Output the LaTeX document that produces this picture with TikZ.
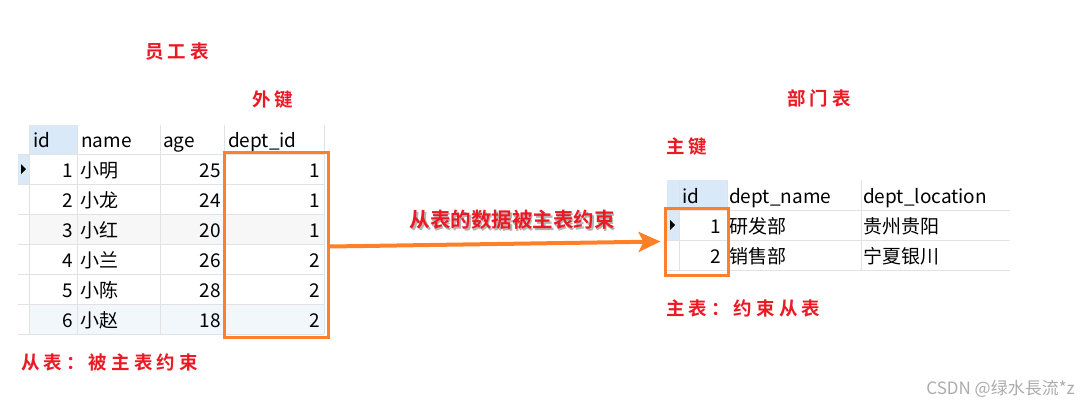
\documentclass[tikz,border=0pt]{standalone}
\usepackage{fontspec}
\setmainfont{Noto Sans CJK SC}[BoldFont={Noto Sans CJK SC Bold}]
\newfontfamily\redfont{Noto Sans CJK SC Bold}[LetterSpace=22]
\usetikzlibrary{arrows.meta}
\definecolor{orng}{RGB}{255,128,40}
\definecolor{redt}{RGB}{235,25,35}
\definecolor{gridc}{RGB}{226,226,226}
\definecolor{selb}{RGB}{217,233,247}
\definecolor{rowg}{RGB}{247,247,247}
\definecolor{rowb}{RGB}{242,247,252}
\begin{document}
\begin{tikzpicture}[x=1pt,y=-1pt,
  lcell/.style={inner sep=0pt,anchor=base west,font=\fontsize{19}{21}\selectfont},
  rcell/.style={inner sep=0pt,anchor=base east,font=\fontsize{19}{21}\selectfont},
  lab/.style={inner sep=0pt,anchor=west,text=redt,font=\fontsize{18.5}{21}\redfont},
  grid/.style={draw=gridc,line width=1pt},
  obox/.style={draw=orng,line width=3pt,inner sep=0pt,minimum width=#1},
  arr/.style={draw=orng,line width=4pt,-{Stealth[length=22pt,width=20pt,inset=5pt]}},
  tri/.style={fill=black}]
\path[use as bounding box,fill=white] (0,0) rectangle (1091,410);

% ---------- left table backgrounds ----------
\fill[selb] (29,125) rectangle (77,154);
\fill[selb] (18,154) rectangle (29,184);
\fill[rowg] (29,214) rectangle (324,244);
\fill[rowb] (29,304) rectangle (324,334);
\foreach \y in {154,184,214,244,274,304,334} \draw[grid] (18,\y) -- (324,\y);
\foreach \x in {29,77,160,224,324} \draw[grid] (\x,125) -- (\x,334);
\fill[tri] (21,164) -- (26,169) -- (21,174) -- cycle;

\node[lcell] (lh1) at (33,147) {id};
\node[lcell] (lh2) at (81,147) {name};
\node[lcell] (lh3) at (163,147) {age};
\node[lcell] (lh4) at (228,147) {dept\_id};
\foreach \i/\n/\a/\d [count=\k from 0] in {1/小明/25/1,2/小龙/24/1,3/小红/20/1,4/小兰/26/2,5/小陈/28/2,6/小赵/18/2}{
  \pgfmathsetmacro{\yb}{177+30*\k}
  \node[rcell] (li\i) at (73,\yb) {\i};
  \node[lcell] (ln\i) at (80,\yb) {\n};
  \node[rcell] (la\i) at (221,\yb) {\a};
  \node[rcell] (ld\i) at (320,\yb) {\d};
}

% ---------- right table ----------
\fill[selb] (667,180) rectangle (727,210);
\fill[selb] (667,210) rectangle (679,240);
\foreach \y in {210,240,270} \draw[grid] (667,\y) -- (1010,\y);
\foreach \x in {679,727,861} \draw[grid] (\x,180) -- (\x,270);
\fill[tri] (670,220) -- (675,225) -- (670,230) -- cycle;

\node[lcell] (rh1) at (682,203) {id};
\node[lcell] (rh2) at (729,203) {dept\_name};
\node[lcell] (rh3) at (863,203) {dept\_location};
\node[rcell] (ri1) at (721,233) {1};
\node[lcell] (rn1) at (729,233) {研发部};
\node[lcell] (rl1) at (863,233) {贵州贵阳};
\node[rcell] (ri2) at (721,263) {2};
\node[lcell] (rn2) at (729,263) {销售部};
\node[lcell] (rl2) at (863,263) {宁夏银川};

% ---------- highlight boxes and arrow ----------
\node[obox=104pt,minimum height=185pt] (fk) at (276,244.5) {};
\node[obox=63pt,minimum height=67pt] (pk) at (696.5,241.5) {};
\draw[arr,shorten >=3pt] ([yshift=-2pt]fk.east) -- (pk.west);

\node[inner sep=0pt,text=gray!60,font=\fontsize{20.5}{22}\bfseries] (msgs) at (513.5,221.5) {从表的数据被主表约束};
\node[inner sep=0pt,text=redt,font=\fontsize{20.5}{22}\bfseries] (msg) at (512,220) {从表的数据被主表约束};

% ---------- red labels ----------
\node[lab] (t1) at (145,52) {员工表};
\node[lab] (t2) at (252,100) {外键};
\node[lab] (t3) at (21,362) {从表：被主表约束};
\node[lab] (t4) at (787,98) {部门表};
\node[lab] (t5) at (666,147) {主键};
\node[lab] (t6) at (666,308) {主表：约束从表};

\node[inner sep=0pt,anchor=base east,text=gray!65,font=\fontsize{17}{19}\selectfont] (wm) at (1075,394) {CSDN @绿水長流*z};
\end{tikzpicture}
\end{document}
